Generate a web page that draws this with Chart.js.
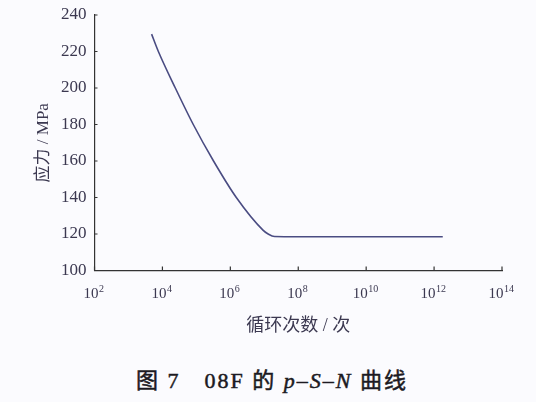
<!DOCTYPE html>
<html>
<head>
<meta charset="utf-8">
<script src="https://cdn.jsdelivr.net/npm/chart.js@4/dist/chart.umd.min.js"></script>
<style>
  body { margin: 0; background: #fbfbfe; }
  #wrap { position: relative; width: 536px; height: 402px; }
  #box { position: absolute; left: 0; top: 0; width: 536px; height: 345px; }
  #caption {
    position: absolute; left: 4px; top: 369px; width: 536px; text-align: center;
    font-family: "Liberation Serif", "Noto Sans CJK SC", serif;
    font-size: 22px; line-height: 24px; font-weight: normal; color: #1c1a22;
    letter-spacing: 2px; -webkit-text-stroke: 0.5px #1c1a22;
  }
</style>
</head>
<body>
<div id="wrap">
  <div id="box"><canvas id="psn"></canvas></div>
  <div id="caption">图 7&emsp;08F 的 <i>p</i>–<i>S</i>–<i>N</i> 曲线</div>
</div>
<script>
// cycles to failure and stress
const cycles = [4.8e3, 7.6e3, 2.4e4, 8.1e4, 3.2e5, 1.5e6, 9.3e6, 1.3e7, 2.0e7, 1.0e8, 1.0e10, 1.8e12];
const stress = [229.5, 220, 200, 180, 160, 140, 122, 120, 118.6, 118.5, 118.5, 118.5];

const xTickValues = [1e2, 1e4, 1e6, 1e8, 1e10, 1e12, 1e14];
const xTickExponents = ['2', '4', '6', '8', '10', '12', '14'];

const axisColor = '#333';
const textColor = '#3b3850';
const serif = '"Liberation Serif", "Noto Sans CJK SC", serif';

// short inward tick marks and 10^n labels with a raised exponent
const axisDecor = {
  id: 'axisDecor',
  afterDraw(chart) {
    const ctx = chart.ctx;
    const xs = chart.scales.x, ys = chart.scales.y;
    ctx.save();
    ctx.strokeStyle = axisColor;
    ctx.lineWidth = 1.2;
    ctx.beginPath();
    xs.ticks.forEach(t => {
      const px = xs.getPixelForValue(t.value);
      ctx.moveTo(px, xs.top);
      ctx.lineTo(px, xs.top - 4);
    });
    ys.ticks.forEach(t => {
      const py = ys.getPixelForValue(t.value);
      ctx.moveTo(ys.right, py);
      ctx.lineTo(ys.right + 3, py);
    });
    ctx.stroke();

    ctx.fillStyle = textColor;
    ctx.textBaseline = 'alphabetic';
    ctx.textAlign = 'left';
    xTickValues.forEach((v, i) => {
      const px = xs.getPixelForValue(v);
      ctx.font = '15px ' + serif;
      const wBase = ctx.measureText('10').width;
      ctx.font = '10px ' + serif;
      const wExp = ctx.measureText(xTickExponents[i]).width;
      const x0 = px - 1 - (wBase + wExp) / 2;
      const base = xs.top + 27;
      ctx.font = '15px ' + serif;
      ctx.fillText('10', x0, base);
      ctx.font = '10px ' + serif;
      ctx.fillText(xTickExponents[i], x0 + wBase + 0.5, base - 6);
    });
    ctx.restore();
  }
};

new Chart(document.getElementById('psn'), {
  type: 'line',
  data: {
    datasets: [{
      data: cycles.map((n, i) => ({ x: n, y: stress[i] })),
      borderColor: '#4a4c82',
      borderWidth: 1.6,
      pointRadius: 0,
      cubicInterpolationMode: 'monotone',
      fill: false
    }]
  },
  options: {
    responsive: true,
    maintainAspectRatio: false,
    animation: false,
    layout: { padding: { top: 15, right: 34, left: 0, bottom: 0 } },
    plugins: { legend: { display: false }, tooltip: { enabled: false } },
    scales: {
      x: {
        type: 'logarithmic',
        min: 1e2,
        max: 1e14,
        afterBuildTicks: s => { s.ticks = xTickValues.map(v => ({ value: v })); },
        afterFit: s => { s.height = 74.5; s.paddingLeft = 0; s.paddingRight = 0; },
        grid: { display: true, drawOnChartArea: false, drawTicks: false },
        border: { color: axisColor, width: 1.2 },
        ticks: { autoSkip: false, maxRotation: 0, callback: () => '' },
        title: {
          display: true,
          text: '循环次数 / 次',
          color: textColor,
          font: { family: serif, size: 18 },
          padding: { top: 0, bottom: 8 }
        }
      },
      y: {
        min: 100,
        max: 240,
        afterFit: s => { s.width = 94.5; s.paddingTop = 0; s.paddingBottom = 0; },
        grid: { display: true, drawOnChartArea: false, drawTicks: false },
        border: { color: axisColor, width: 1.2 },
        ticks: {
          stepSize: 20,
          padding: 8,
          color: textColor,
          font: { family: serif, size: 17 }
        },
        title: {
          display: true,
          text: '应力 / MPa',
          color: textColor,
          font: { family: serif, size: 17 },
          padding: { top: 33, bottom: 0 }
        }
      }
    }
  },
  plugins: [axisDecor]
});
</script>
</body>
</html>
